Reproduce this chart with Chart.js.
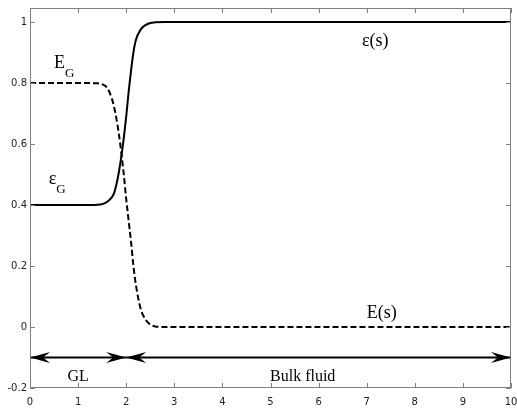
<!DOCTYPE html>
<html>
<head>
<meta charset="utf-8">
<script src="https://cdn.jsdelivr.net/npm/chart.js@4/dist/chart.umd.min.js"></script>
<style>
  html, body { margin: 0; padding: 0; background: #fff; }
  #wrap { width: 517px; height: 409px; }
</style>
</head>
<body>
<div id="wrap"><canvas id="chart" width="517" height="409"></canvas></div>
<script>
// porosity eps(s), solid
const epsS = [0, 1.0, 1.4, 1.5, 1.6, 1.7, 1.75, 1.8, 1.85, 1.9, 1.95, 2.0, 2.05, 2.1, 2.15, 2.2, 2.3, 2.4, 2.5, 2.6, 2.8, 3, 10];
const epsV = [0.4, 0.4, 0.401, 0.403, 0.41, 0.425, 0.44, 0.47, 0.51, 0.56, 0.62, 0.69, 0.77, 0.84, 0.9, 0.94, 0.975, 0.99, 0.997, 0.999, 1, 1, 1];

// E(s), dashed
const eS = [0, 1.0, 1.4, 1.5, 1.6, 1.7, 1.75, 1.8, 1.85, 1.9, 1.95, 2.0, 2.05, 2.1, 2.15, 2.2, 2.3, 2.4, 2.5, 2.6, 2.8, 3, 10];
const eV = [0.8, 0.8, 0.799, 0.796, 0.785, 0.75, 0.72, 0.68, 0.63, 0.57, 0.5, 0.42, 0.35, 0.28, 0.2, 0.14, 0.06, 0.025, 0.008, 0.002, 0, 0, 0];

// double arrows at y = -0.1
const arrowY = -0.1;
const arrowFrom = [0, 2];
const arrowTo = [2, 10];

const xTicks = [0, 1, 2, 3, 4, 5, 6, 7, 8, 9, 10];
const yTicks = [-0.2, 0, 0.2, 0.4, 0.6, 0.8, 1];

// text labels in data coordinates
const labels = [
  { text: "E", sub: "G", x: 0.5, y: 0.85 },
  { text: "\u03b5", sub: "G", x: 0.39, y: 0.47 },
  { text: "\u03b5(s)", sub: "", x: 6.9, y: 0.92 },
  { text: "E(s)", sub: "", x: 7.0, y: 0.03 },
  { text: "GL", sub: "", x: 0.78, y: -0.176 },
  { text: "Bulk fluid", sub: "", x: 4.99, y: -0.176 }
];

const toPts = (xs, ys) => xs.map((x, i) => ({ x: x, y: ys[i] }));

const frame = {
  id: "frame",
  afterDraw(chart) {
    const ctx = chart.ctx;
    const a = chart.chartArea;
    const sx = chart.scales.x;
    const sy = chart.scales.y;
    ctx.save();
    ctx.strokeStyle = "#808080";
    ctx.lineWidth = 1;
    ctx.strokeRect(a.left + 0.5, a.top + 0.5, a.right - a.left - 1, a.bottom - a.top - 1);
    ctx.beginPath();
    xTicks.forEach((v) => {
      const px = Math.round(sx.getPixelForValue(v)) + 0.5;
      ctx.moveTo(px, a.bottom); ctx.lineTo(px, a.bottom - 5);
      ctx.moveTo(px, a.top); ctx.lineTo(px, a.top + 5);
    });
    yTicks.forEach((v) => {
      const py = Math.round(sy.getPixelForValue(v)) + 0.5;
      ctx.moveTo(a.left, py); ctx.lineTo(a.left + 5, py);
      ctx.moveTo(a.right, py); ctx.lineTo(a.right - 5, py);
    });
    ctx.stroke();

    // arrow heads
    ctx.fillStyle = "#000";
    const head = (px, py, dir) => {
      const L = 20, W = 5.5, N = 13;
      ctx.beginPath();
      ctx.moveTo(px, py);
      ctx.lineTo(px - dir * L, py - W);
      ctx.lineTo(px - dir * N, py);
      ctx.lineTo(px - dir * L, py + W);
      ctx.closePath();
      ctx.fill();
    };
    const ay = sy.getPixelForValue(arrowY);
    arrowFrom.forEach((f, i) => {
      head(sx.getPixelForValue(f), ay, -1);
      head(sx.getPixelForValue(arrowTo[i]), ay, 1);
    });

    // text labels
    ctx.fillStyle = "#000";
    ctx.textBaseline = "alphabetic";
    ctx.textAlign = "left";
    labels.forEach((l) => {
      const px = sx.getPixelForValue(l.x);
      const py = sy.getPixelForValue(l.y);
      const big = l.text.length > 4 || l.text === "GL" ? 16 : 18;
      ctx.font = big + "px 'Liberation Serif', serif";
      ctx.fillText(l.text, px, py);
      if (l.sub) {
        const w = ctx.measureText(l.text).width;
        ctx.font = "13px 'Liberation Serif', serif";
        ctx.fillText(l.sub, px + w, py + 9);
      }
    });
    ctx.restore();
  }
};

const datasets = [
  {
    data: toPts(epsS, epsV),
    borderColor: "#000",
    borderWidth: 2,
    pointRadius: 0,
    cubicInterpolationMode: "monotone"
  },
  {
    data: toPts(eS, eV),
    borderColor: "#000",
    borderWidth: 2,
    borderDash: [6, 3],
    pointRadius: 0,
    cubicInterpolationMode: "monotone"
  }
];
arrowFrom.forEach((f, i) => {
  datasets.push({
    data: [{ x: f, y: arrowY }, { x: arrowTo[i], y: arrowY }],
    borderColor: "#000",
    borderWidth: 2,
    pointRadius: 0
  });
});

new Chart(document.getElementById("chart"), {
  type: "line",
  data: { datasets: datasets },
  options: {
    responsive: false,
    animation: false,
    layout: { padding: { top: 8, right: 6, left: 0, bottom: 0 } },
    plugins: { legend: { display: false }, tooltip: { enabled: false } },
    scales: {
      x: {
        type: "linear",
        min: 0,
        max: 10,
        grid: { display: false, tickLength: 0 },
        border: { display: false },
        afterFit: (s) => { s.height = 21; s.paddingLeft = 0; s.paddingRight = 0; },
        afterBuildTicks: (s) => { s.ticks = xTicks.map((v) => ({ value: v })); },
        ticks: {
          color: "#222",
          padding: 8,
          maxRotation: 0,
          font: { family: "'DejaVu Sans', sans-serif", size: 10 },
          callback: (v) => String(v)
        }
      },
      y: {
        type: "linear",
        min: -0.2,
        max: 1.046,
        grid: { display: false, tickLength: 0 },
        border: { display: false },
        afterFit: (s) => { s.width = 30; s.paddingTop = 0; s.paddingBottom = 0; },
        afterBuildTicks: (s) => { s.ticks = yTicks.map((v) => ({ value: v })); },
        ticks: {
          color: "#222",
          padding: 3,
          font: { family: "'DejaVu Sans', sans-serif", size: 10 },
          callback: (v) => String(Number(v.toFixed(1)))
        }
      }
    }
  },
  plugins: [frame]
});
</script>
</body>
</html>
